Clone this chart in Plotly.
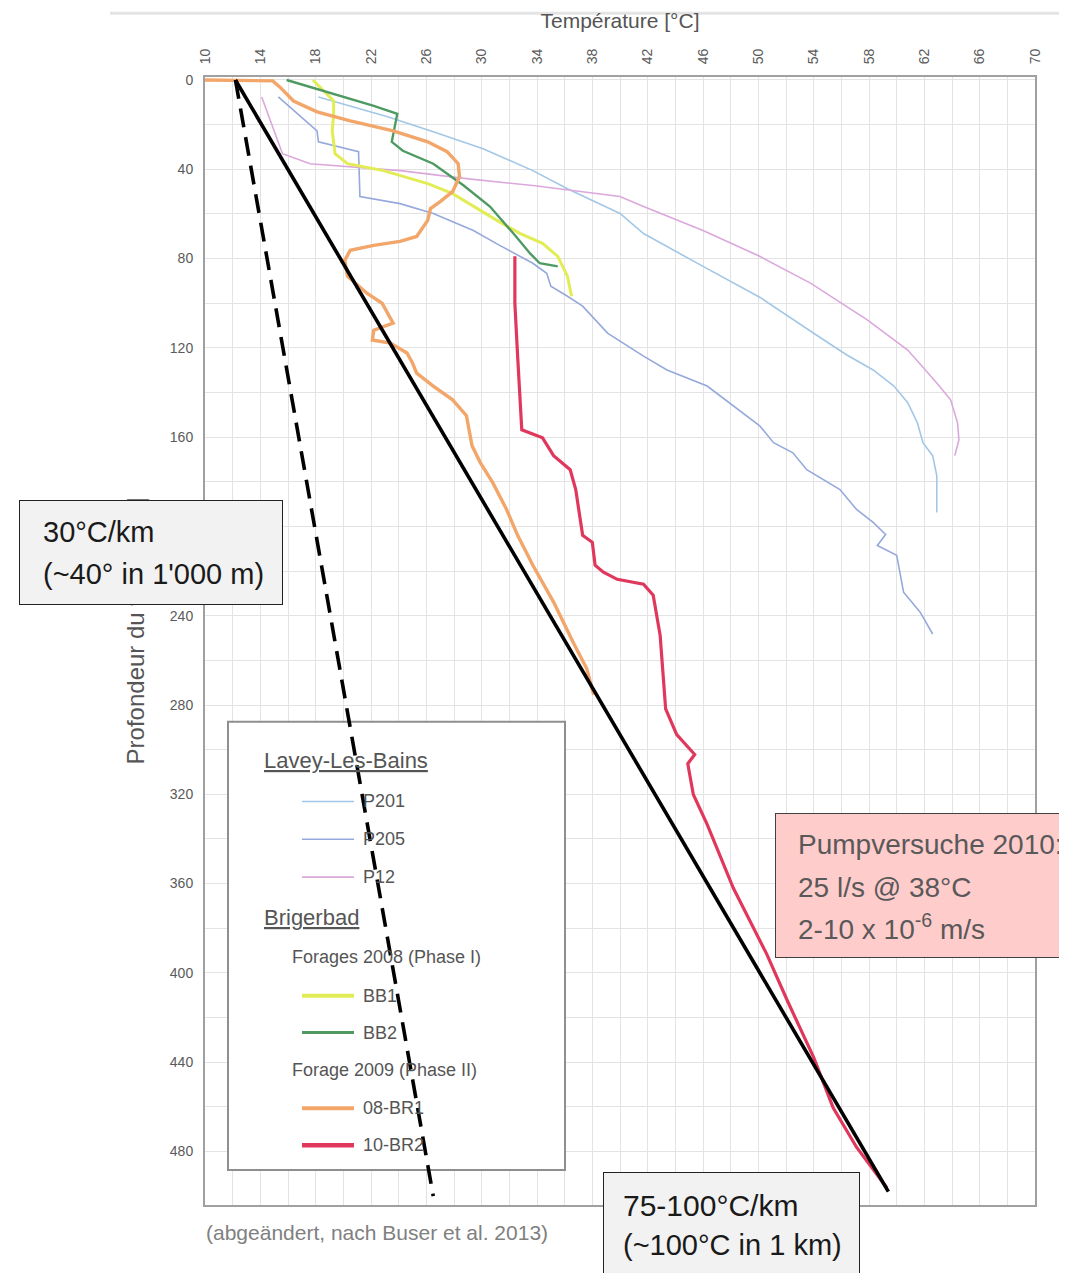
import plotly.graph_objects as go

# ---------------- data ----------------
temp_ticks = list(range(10, 71, 4))
depth_ticks = list(range(0, 481, 40))

# Lavey-Les-Bains
p201_temp = [18.2, 20.5, 23.2, 26.5, 30.1, 33.7, 36.2, 40.0, 41.7, 46.0, 50.1, 54.3, 56.4,
             58.3, 59.8, 60.8, 61.5, 61.9, 62.6, 62.9, 62.9]
p201_depth = [7.6, 11.6, 16.5, 23.2, 30.8, 40.6, 48.7, 59.8, 68.8, 83.5, 97.3, 114.7, 123.2,
              129.9, 137.1, 144.6, 153.6, 162.5, 168.3, 177.2, 193.8]

p205_temp = [15.3, 18.1, 18.2, 21.1, 21.2, 24.1, 26.5, 29.4, 31.3, 33.7, 34.7, 35.0, 36.2,
             37.3, 39.1, 41.7, 43.4, 46.3, 50.1, 51.1, 52.5, 53.5, 55.9, 57.1, 58.3, 59.2,
             58.6, 60.0, 60.5, 61.7, 62.6]
p205_depth = [7.6, 22.8, 27.7, 32.1, 52.2, 55.4, 59.8, 67.4, 74.1, 82.1, 86.6, 92.4, 96.9,
              101.3, 113.4, 123.7, 129.9, 137.1, 154.9, 162.5, 167.0, 174.6, 183.5, 192.4,
              198.2, 203.6, 208.5, 212.9, 229.5, 238.4, 248.2]

p12_temp = [14.1, 14.8, 15.6, 17.6, 24.1, 28.9, 33.7, 40.0, 41.7, 46.0, 50.1, 53.8, 57.9,
            60.8, 62.9, 63.9, 64.4, 64.5, 64.2]
p12_depth = [7.6, 19.6, 33.0, 37.5, 40.6, 44.2, 47.3, 52.2, 56.7, 67.4, 79.0, 91.1, 107.6,
             121.0, 135.7, 143.3, 153.6, 161.2, 168.3]

# Brigerbad, Forages 2008 (Phase I)
bb1_temp = [17.8, 19.3, 19.3, 19.2, 19.4, 20.3, 22.9, 26.1, 27.9, 29.4, 31.1, 32.8, 34.4,
            35.5, 36.2, 36.5]
bb1_depth = [0.0, 9.4, 15.2, 22.8, 33.0, 37.5, 40.6, 46.4, 50.9, 56.7, 62.9, 68.8, 73.2,
             79.0, 87.9, 96.9]

bb2_temp = [15.9, 19.3, 22.2, 23.9, 23.7, 23.5, 24.3, 26.5, 28.7, 30.6, 32.3, 33.5, 34.2, 35.5]
bb2_depth = [0.0, 6.3, 11.6, 15.2, 21.0, 27.7, 31.7, 37.5, 47.3, 56.7, 68.8, 77.7, 82.1, 83.5]

# Brigerbad, Forage 2009 (Phase II)
br1_temp = [10.0, 14.9, 15.4, 16.4, 18.1, 20.5, 23.6, 26.1, 27.5, 28.3, 28.4, 27.9, 27.0,
            26.3, 26.1, 25.3, 24.1, 22.2, 20.5, 20.1, 20.3, 21.7, 22.8, 23.6, 22.2, 22.1,
            23.4, 24.6, 25.0, 25.3, 26.5, 27.9, 28.9, 29.3, 29.9, 30.8, 31.8, 32.6, 33.7,
            35.2, 36.6, 37.6, 38.1]
br1_depth = [0.0, 0.4, 3.1, 9.4, 14.3, 18.3, 22.8, 27.7, 32.1, 37.5, 43.3, 50.0, 54.5,
             57.6, 62.9, 70.1, 72.3, 74.1, 76.3, 80.8, 87.9, 95.5, 100.0, 108.9, 112.1, 116.5,
             117.9, 122.3, 126.8, 131.3, 137.1, 143.3, 150.4, 163.8, 171.4, 180.4, 192.4, 204.0,
             217.4, 233.9, 251.8, 263.8, 275.4]

br2_temp = [32.4, 32.4, 32.6, 32.9, 34.4, 35.2, 36.4, 36.8, 37.3, 38.0, 38.2, 38.8, 39.8,
            41.7, 42.4, 42.9, 43.3, 44.1, 45.4, 44.9, 45.3, 46.3, 48.2, 50.6, 52.1, 54.0,
            55.4, 57.1, 59.3]
br2_depth = [79.0, 100.0, 123.7, 156.7, 160.3, 168.3, 174.6, 183.5, 204.0, 207.1, 217.4,
             220.5, 223.7, 225.9, 230.8, 248.7, 281.7, 293.3, 302.2, 306.3, 320.1, 333.5,
             362.1, 391.5, 412.5, 437.9, 460.3, 478.1, 496.4]

# geothermal gradient guide lines
grad30_temp = [12.2, 26.5]
grad30_depth = [0.0, 500.0]
grad95_temp = [12.2, 59.4]
grad95_depth = [0.0, 498.0]

# ---------------- geometry helpers (layout only) ----------------
OFF = 8                      # page body margin
W, H = 1067 - OFF, 1273 - OFF
PL, PR, PT, PB = 205, 1035, 73, 1205   # plot frame in page pixels
L, R, T, B = PL - OFF, W - (PR - OFF), PT - OFF, H - (PB - OFF)
X_RANGE = [10, 70]
Y_RANGE = [504.0, -1.34]
pw = PR - PL
ph = PB - PT


def px_x(px):
    return (px - PL) / pw


def px_y(py):
    return (PB - py) / ph


def px_T(px):
    return X_RANGE[0] + (px - PL) / pw * (X_RANGE[1] - X_RANGE[0])


def px_d(py):
    return Y_RANGE[1] + (py - PT) / ph * (Y_RANGE[0] - Y_RANGE[1])


SANS = "Liberation Sans, Arial, sans-serif"

series = [
    ("P201", p201_temp, p201_depth, "#a3c7e6", 1.6),
    ("P205", p205_temp, p205_depth, "#96a9dc", 1.6),
    ("P12", p12_temp, p12_depth, "#dba8dc", 1.6),
    ("BB1", bb1_temp, bb1_depth, "#e2ec55", 3.0),
    ("BB2", bb2_temp, bb2_depth, "#4e9a62", 2.4),
    ("08-BR1", br1_temp, br1_depth, "#f2a66a", 3.4),
    ("10-BR2", br2_temp, br2_depth, "#e0385c", 3.2),
]

fig = go.Figure()
for name, xs, ys, col, w in series:
    fig.add_trace(go.Scatter(x=xs, y=ys, mode="lines", name=name,
                             line=dict(color=col, width=w),
                             showlegend=False, hoverinfo="skip"))

fig.add_trace(go.Scatter(x=grad95_temp, y=grad95_depth, mode="lines",
                         line=dict(color="black", width=3.6),
                         showlegend=False, hoverinfo="skip", cliponaxis=False))
fig.add_trace(go.Scatter(x=grad30_temp, y=grad30_depth, mode="lines",
                         line=dict(color="black", width=3.6, dash="19px,10px"),
                         showlegend=False, hoverinfo="skip", cliponaxis=False))

grid = "#e3e3e3"
fig.update_xaxes(range=X_RANGE, side="top", tickmode="array", tickvals=temp_ticks,
                 ticktext=[str(v) for v in temp_ticks], tickangle=-90,
                 tickfont=dict(size=14, color="#5a5a5a", family=SANS),
                 ticks="", ticklabelstandoff=8,
                 showgrid=True, gridcolor=grid, gridwidth=1,
                 minor=dict(tickvals=list(range(12, 70, 4)), showgrid=True,
                            gridcolor=grid, gridwidth=1),
                 showline=True, linecolor="#a0a0a0", linewidth=2, mirror=True,
                 zeroline=False,
                 title=dict(text="Température [°C]", standoff=14,
                            font=dict(size=21, color="#555555", family=SANS)))
fig.update_yaxes(range=Y_RANGE, tickmode="array", tickvals=depth_ticks,
                 ticktext=[str(v) for v in depth_ticks],
                 tickfont=dict(size=14, color="#5a5a5a", family=SANS),
                 ticks="", ticklabelstandoff=7,
                 showgrid=True, gridcolor=grid, gridwidth=1,
                 minor=dict(tickvals=list(range(20, 500, 40)), showgrid=True,
                            gridcolor=grid, gridwidth=1),
                 showline=True, linecolor="#a0a0a0", linewidth=2, mirror=True,
                 zeroline=False,
                 title=dict(text="&nbsp;&nbsp;&nbsp;Profondeur du forage [m]", standoff=18,
                            font=dict(size=24, color="#555555", family=SANS)))

shapes = []
# faint slide rule at the top
shapes.append(dict(type="line", xref="paper", yref="paper", x0=px_x(110), x1=px_x(1067),
                   y0=px_y(9), y1=px_y(9), line=dict(color="#e4e4e4", width=3), layer="above"))
# legend frame (between grid and traces)
shapes.append(dict(type="rect", xref="x", yref="y", x0=px_T(228), x1=px_T(565),
                   y0=px_d(720), y1=px_d(1170), fillcolor="white",
                   line=dict(color="#8f8f8f", width=2), layer="between"))

annotations = []
leg_rows = [
    ("P201", 800, "#a3c7e6", 1.6),
    ("P205", 838, "#96a9dc", 1.6),
    ("P12", 876, "#dba8dc", 1.6),
    ("BB1", 995, "#e2ec55", 4.0),
    ("BB2", 1032, "#4e9a62", 3.0),
    ("08-BR1", 1108, "#f2a66a", 4.0),
    ("10-BR2", 1145, "#e0385c", 4.5),
]
for lab, yy, col, w in leg_rows:
    shapes.append(dict(type="line", xref="x", yref="y", x0=px_T(302), x1=px_T(354),
                       y0=px_d(yy), y1=px_d(yy), line=dict(color=col, width=w), layer="above"))
    annotations.append(dict(text=lab, xref="x", yref="y", x=px_T(361), y=px_d(yy),
                            xanchor="left", yanchor="middle", showarrow=False,
                            font=dict(size=18, color="#555555", family=SANS)))
for txt, xx, yy, sz in [("<u>Lavey-Les-Bains</u>", 262, 759, 22),
                        ("<u>Brigerbad</u>", 262, 916, 22),
                        ("Forages 2008 (Phase I)", 290, 956, 18),
                        ("Forage 2009 (Phase II)", 290, 1070, 18)]:
    annotations.append(dict(text=txt, xref="x", yref="y", x=px_T(xx), y=px_d(yy),
                            xanchor="left", yanchor="middle", showarrow=False,
                            font=dict(size=sz, color="#555555", family=SANS)))

# boxed comments
boxes = [
    (19, 498, 264, 105, "#f2f2f2", "#222222"),
    (775, 812, 330, 145, "#ffcccc", "#404040"),
    (603, 1172, 257, 130, "#f2f2f2", "#222222"),
]
for x0, y0, bw, bh, fc, lc in boxes:
    annotations.append(dict(text=" ", xref="paper", yref="paper", x=px_x(x0), y=px_y(y0),
                            xanchor="left", yanchor="top", width=bw - 2, height=bh - 2,
                            bgcolor=fc, bordercolor=lc, borderwidth=1, borderpad=0,
                            showarrow=False))
box_lines = [
    ("30°C/km", 41, 530, "#1a1a1a", 29),
    ("(~40° in 1'000 m)", 41, 572, "#1a1a1a", 29),
    ("Pumpversuche 2010:", 796, 843, "#595959", 28),
    ("25 l/s @ 38°C", 796, 886, "#595959", 28),
    ("2-10 x 10<sup>-6</sup> m/s", 796, 926, "#595959", 28),
    ("75-100°C/km", 621, 1205, "#1a1a1a", 30),
    ("(~100°C in 1 km)", 621, 1245, "#1a1a1a", 29),
]
for txt, xx, yy, col, sz in box_lines:
    annotations.append(dict(text=txt, xref="paper", yref="paper", x=px_x(xx), y=px_y(yy),
                            xanchor="left", yanchor="middle", align="left", showarrow=False,
                            font=dict(size=sz, color=col, family=SANS)))
annotations.append(dict(text="(abgeändert, nach Buser et al. 2013)", xref="paper", yref="paper",
                        x=px_x(204), y=px_y(1233), xanchor="left", yanchor="middle",
                        showarrow=False, font=dict(size=21, color="#808080", family=SANS)))

fig.update_layout(width=W, height=H, margin=dict(l=L, r=R, t=T, b=B),
                  paper_bgcolor="white", plot_bgcolor="white",
                  font=dict(family=SANS), showlegend=False,
                  shapes=shapes, annotations=annotations)

fig.write_html("out.html")
